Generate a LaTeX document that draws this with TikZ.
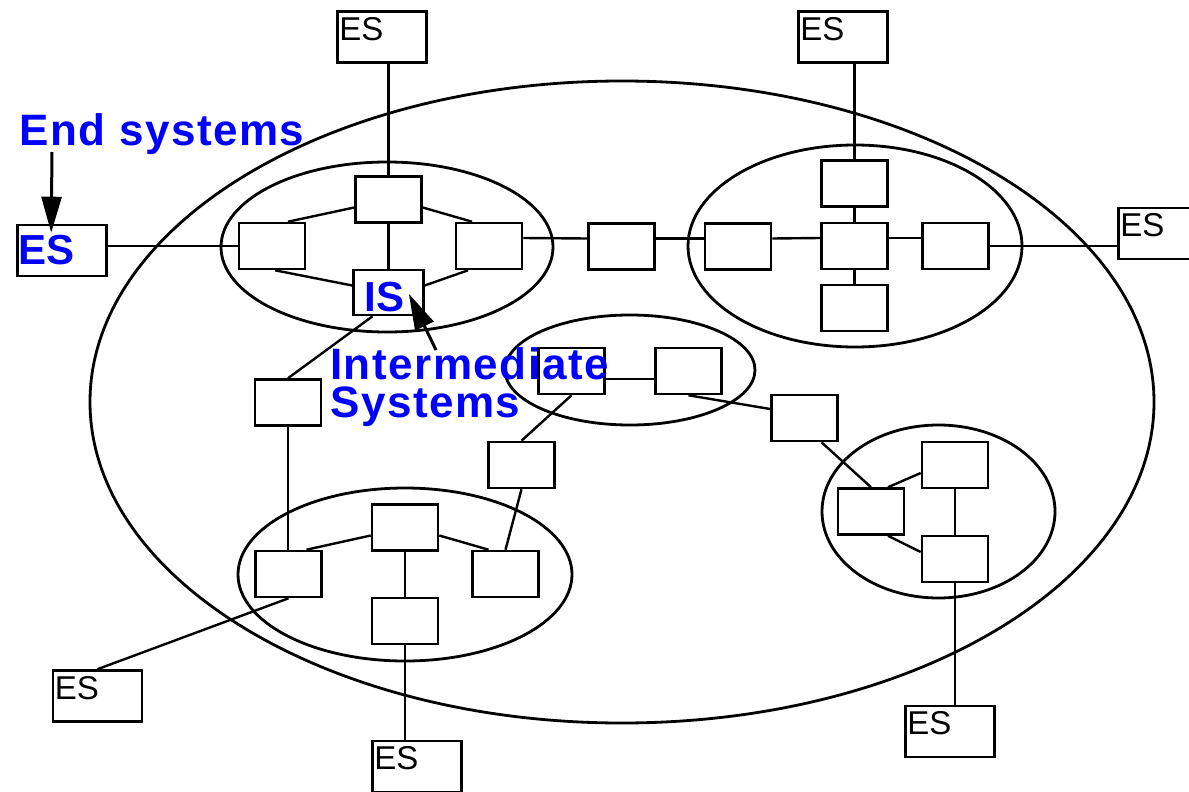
\documentclass[tikz,border=0pt]{standalone}
\usepackage{fontspec}
\setmainfont{Liberation Sans}
\newfontfamily\labelfont[LetterSpace=3.5]{Liberation Sans}
\usetikzlibrary{calc,arrows.meta}
\definecolor{labelblue}{RGB}{0,0,255}
\begin{document}
\begin{tikzpicture}[x=1pt,y=-1pt,
  router/.style={draw, fill=white, line width=2.6pt, minimum width=66pt, minimum height=46pt, inner sep=0pt},
  endsys/.style={router, minimum width=89pt, minimum height=51pt},
  link/.style={line width=2.4pt},
  area/.style={line width=2.8pt},
  estext/.style={anchor=north west, inner sep=0pt, font=\fontsize{33}{36}\selectfont},
  bluetext/.style={anchor=base west, inner sep=0pt, text=labelblue, font=\labelfont\bfseries\fontsize{44}{46}\selectfont},
  bluebox/.style={bluetext, font=\bfseries\fontsize{42}{46}\selectfont},
  pointer/.style={line width=3pt, -{Triangle[length=36pt,width=20pt]}}
]
\useasboundingbox (0,0) rectangle (1189,792);

% network areas
\draw[area] (622,402) ellipse [x radius=532, y radius=321];
\draw[area] (387,247) ellipse [x radius=166, y radius=85];
\draw[area] (855,246) ellipse [x radius=167, y radius=101];
\draw[area] (630,370) ellipse [x radius=125, y radius=55];
\draw[area] (405,574.5) ellipse [x radius=167, y radius=86.5];
\draw[area] (938.5,511.5) ellipse [x radius=116.5, y radius=86.5];

% end systems
\node[endsys] (esTL) at (382,37) {};
\node[endsys] (esTR) at (843,37) {};
\node[endsys] (esR)  at (1163,233.5) {};
\node[endsys] (esL)  at (62,250.5) {};
\node[endsys] (esBL) at (97.5,696) {};
\node[endsys] (esB)  at (417,766.5) {};
\node[endsys] (esBR) at (950,731.5) {};

% intermediate systems
\node[router] (aT) at (388.5,199.5) {};
\node[router] (aL) at (272,246) {};
\node[router] (aR) at (489,246) {};
\node[router, minimum width=70pt, minimum height=45pt] (aIS) at (388.5,292.5) {};
\node[router] (m1) at (621.5,246.5) {};
\node[router] (bL) at (738,246.5) {};
\node[router] (bC) at (854.5,246) {};
\node[router] (bT) at (854.5,183.5) {};
\node[router] (bB) at (854.5,308) {};
\node[router] (bR) at (955.5,246) {};
\node[router] (cL) at (571.5,371) {};
\node[router] (cR) at (688.5,371) {};
\node[router] (dd) at (804.5,418) {};
\node[router] (ee) at (521.5,465) {};
\node[router] (ff) at (288,402.5) {};
\node[router] (gT) at (405,527.5) {};
\node[router] (gL) at (288.5,574) {};
\node[router] (gR) at (505.5,574) {};
\node[router] (gB) at (405,621) {};
\node[router] (hT) at (955,465) {};
\node[router] (hL) at (871,511.5) {};
\node[router] (hB) at (955,559) {};

% links
\draw[link] (aL.west) -- (aL.west -| esL.east);
\draw[link] (aT.north) -- (aT.north |- esTL.south);
\draw[link] ($(aL.north)+(16,0)$) -- ($(aT.west)+(0,8)$);
\draw[link] ($(aL.south)+(3,0)$) -- ($(aIS.west)+(0,-7)$);
\draw[link] (aT.south) -- (aIS.north);
\draw[link] ($(aT.east)+(0,8)$) -- ($(aR.north)+(-17,0)$);
\draw[link] ($(aIS.east)+(0,-7)$) -- ($(aR.south)+(-21,0)$);
\draw[link] ($(aR.east)+(0,-8)$) -- ($(m1.west)+(0,-8)$);
\draw[link] ($(m1.east)+(0,-8)$) -- ($(bL.west)+(0,-8)$);
\draw[link] ($(bL.east)+(0,-8)$) -- ($(bC.west)+(0,-8)$);
\draw[link] ($(bC.east)+(0,-8)$) -- ($(bR.west)+(0,-8)$);
\draw[link] (bR.east) -- (bR.east -| esR.west);
\draw[link] (bT.south) -- (bC.north);
\draw[link] (bC.south) -- (bB.north);
\draw[link] (bT.north) -- (bT.north |- esTR.south);
\draw[link] ($(aIS.south)+(-16,0)$) -- (ff.north);
\draw[link] (ff.south) -- (ff.south |- gL.north);
\draw[link] ($(cL.east)+(0,8)$) -- ($(cR.west)+(0,8)$);
\draw[link] (cR.south) -- ($(dd.west)+(0,-9)$);
\draw[link] (cL.south) -- (ee.north);
\draw[link] ($(dd.south)+(17,0)$) -- (hL.north);
\draw[link] ($(hL.north)+(17,0)$) -- ($(hT.west)+(0,8)$);
\draw[link] ($(hL.south)+(17,0)$) -- ($(hB.west)+(0,-7)$);
\draw[link] (hT.south) -- (hB.north);
\draw[link] (hB.south) -- (hB.south |- esBR.north);
\draw[link] ($(gL.north)+(18,0)$) -- ($(gT.west)+(0,8)$);
\draw[link] ($(gT.east)+(0,8)$) -- ($(gR.north)+(-17,0)$);
\draw[link] (gT.south) -- (gB.north);
\draw[link] (gR.north) -- (ee.south);
\draw[link] (gL.south) -- (esBL.north);
\draw[link] (gB.south) -- (gB.south |- esB.north);

% end system names
\node[estext] (tTL) at ($(esTL.north west)+(3,7)$) {ES};
\node[estext] (tTR) at ($(esTR.north west)+(3,7)$) {ES};
\node[estext] (tR)  at ($(esR.north west)+(3,7)$) {ES};
\node[estext] (tBL) at ($(esBL.north west)+(3,7)$) {ES};
\node[estext] (tB)  at ($(esB.north west)+(3,7)$) {ES};
\node[estext] (tBR) at ($(esBR.north west)+(3,7)$) {ES};

% highlighted labels
\node[bluebox] (tL) at ($(esL.north west)+(2,41)$) {ES};
\node[bluebox] (tIS) at ($(aIS.north west)+(12,43)$) {IS};
\node[bluetext] (endLabel) at (19,145) {End systems};
\node[bluetext] (imLabel) at (330,379) {Intermediate};
\node[bluetext] (sysLabel) at (330,417) {Systems};

% pointers
\coordinate (esTail) at (52,152);
\coordinate (isTail) at (436,350);
\draw[pointer] (esTail) -- ($(esL.north west)+(35,9)$);
\draw[pointer] (isTail) -- ($(aIS.north east)+(-16,25)$);
\end{tikzpicture}
\end{document}
